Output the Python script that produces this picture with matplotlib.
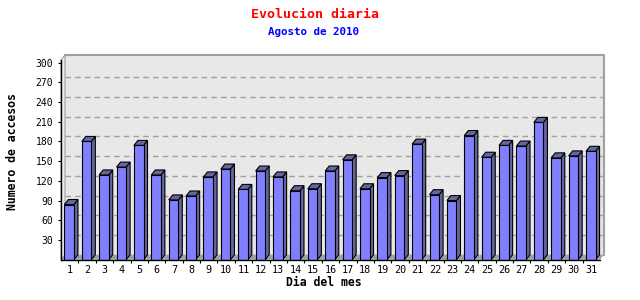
import matplotlib
matplotlib.use("Agg")
import matplotlib.pyplot as plt
from matplotlib.patches import Polygon, Rectangle
from matplotlib import transforms
import numpy as np

# data
dias = list(range(1, 32))
accesos = [84, 180, 129, 141, 174, 129, 91, 97, 126, 138, 107, 135, 126, 105,
           108, 135, 152, 108, 125, 128, 176, 99, 90, 189, 156, 174, 173, 209,
           155, 158, 165]
yticks = list(range(30, 301, 30))

titulo = "Evolucion diaria"
subtitulo = "Agosto de 2010"
x_title = "Dia del mes"
y_title = "Numero de accesos"

FRONT = "#8080ff"
SIDE = "#66669e"
WALL = "#e8e8e8"
FLOOR = "#a0a0a0"
BORDER = "#a0a0a0"


def main():
    plt.rcParams["font.family"] = ["DejaVu Sans Mono"]
    W, H, DPI = 6.4, 3.0, 100
    fig = plt.figure(figsize=(W, H), dpi=DPI, facecolor="white")

    # axes box in pixels (front plane)
    left_px, right_px, top_px, bottom_px = 61, 600, 60, 259.7
    ax = fig.add_axes([left_px / 640, (300 - bottom_px) / 300,
                       (right_px - left_px) / 640, (bottom_px - top_px) / 300])
    ax.set_facecolor("none")
    xmin, xmax = 0.5, 31.5
    ymin, ymax = 0, 304
    ax.set_xlim(xmin, xmax)
    ax.set_ylim(ymin, ymax)

    # 3d depth
    dx_px, dy_px = 4.0, 5.0
    ax_w = right_px - left_px
    ax_h = bottom_px - top_px
    dxa, dya = dx_px / ax_w, dy_px / ax_h
    ddx = dxa * (xmax - xmin)
    ddy = dya * (ymax - ymin)
    shift = transforms.ScaledTranslation(dx_px / DPI, dy_px / DPI,
                                         fig.dpi_scale_trans)

    # back wall
    ax.add_patch(Rectangle((0, 0), 1, 1, transform=ax.transAxes + shift,
                           facecolor=WALL, edgecolor="none", zorder=0,
                           clip_on=False))
    ax.plot([0, 1, 1], [1, 1, 0], transform=ax.transAxes + shift,
            color=BORDER, lw=1.5, zorder=0.5, clip_on=False)
    # left wall
    ax.add_patch(Polygon([(0, 0), (0, 1), (dxa, 1 + dya), (dxa, dya)],
                         transform=ax.transAxes, facecolor="#eeeeee",
                         edgecolor=BORDER, lw=0.8, zorder=0.6, clip_on=False))
    # floor
    ax.add_patch(Polygon([(0, 0), (1, 0), (1 + dxa, dya), (dxa, dya)],
                         transform=ax.transAxes, facecolor=FLOOR,
                         edgecolor="none", zorder=0.6, clip_on=False))

    # grid on back wall
    blend = transforms.blended_transform_factory(ax.transAxes, ax.transData)
    for v in yticks[:-1]:
        ax.plot([0, 1], [v, v], transform=blend + shift, color="#a0a0a0",
                lw=1.0, ls=(0, (4, 3)), zorder=0.7, clip_on=False)

    # bars
    width = 0.55
    xs = np.array(dias) - 0.03
    ax.bar(xs, accesos, width=width, color=FRONT, edgecolor="black",
           linewidth=0.8, zorder=3)
    for x, h in zip(xs, accesos):
        x0, x1 = x - width / 2, x + width / 2
        side = [(x1, 0), (x1, h), (x1 + ddx, h + ddy), (x1 + ddx, ddy)]
        top = [(x0, h), (x1, h), (x1 + ddx, h + ddy), (x0 + ddx, h + ddy)]
        ax.add_patch(Polygon(side, facecolor=SIDE, edgecolor="black",
                             lw=0.8, zorder=2.5, clip_on=False))
        ax.add_patch(Polygon(top, facecolor=SIDE, edgecolor="black",
                             lw=0.8, zorder=2.5, clip_on=False))

    # spines and ticks
    for s in ["top", "right"]:
        ax.spines[s].set_visible(False)
    ax.spines["left"].set_linewidth(1.0)
    ax.spines["bottom"].set_linewidth(1.0)
    ax.spines["left"].set_zorder(4)
    ax.spines["bottom"].set_zorder(4)

    ax.set_yticks(yticks)
    ax.set_yticklabels([str(v) for v in yticks])
    ax.tick_params(axis="y", direction="out", length=2.5, width=0.8,
                   pad=3, labelsize=7)
    ax.set_xticks(dias)
    ax.set_xticklabels([str(d) for d in dias])
    ax.set_xticks([d + 0.5 for d in dias[:-1]], minor=True)
    ax.tick_params(axis="x", which="major", length=0, pad=4, labelsize=7.3)
    ax.tick_params(axis="x", which="minor", direction="out", length=2.5,
                   width=0.8)

    fig.text(315 / 640, 1 - 15 / 300, titulo, color="red", fontsize=9.5,
             fontweight="bold", ha="center", va="center")
    fig.text(314 / 640, 1 - 32 / 300, subtitulo, color="blue", fontsize=7.8,
             fontweight="bold", ha="center", va="center")
    fig.text(324 / 640, 1 - 282 / 300, x_title, fontsize=8.3,
             fontweight="bold", ha="center", va="center")
    fig.text(13 / 640, 1 - 152 / 300, y_title, fontsize=8.3,
             fontweight="bold", ha="center", va="center", rotation=90)

    fig.savefig("out.png", dpi=DPI, facecolor="white")


if __name__ == "__main__":
    main()
